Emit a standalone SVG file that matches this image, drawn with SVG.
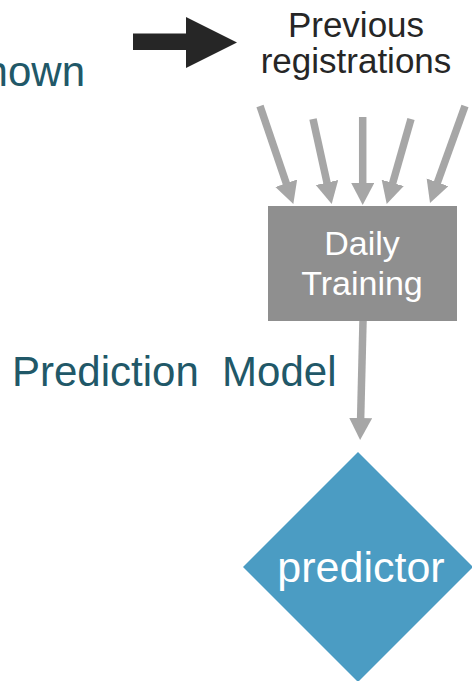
<svg xmlns="http://www.w3.org/2000/svg" width="472" height="681" viewBox="0 0 472 681">
  <style>
    text { font-family: "Liberation Sans", Arial, sans-serif; }
    .label { fill: #215868; font-size: 42px; }
    .dark { fill: #262626; font-size: 35px; }
    .white { fill: #ffffff; }
    .feed { stroke: #a6a6a6; stroke-width: 7.5; fill: none; marker-end: url(#grayHead); }
  </style>
  <defs>
    <marker id="grayHead" markerUnits="userSpaceOnUse" markerWidth="24" markerHeight="24" refX="2" refY="11.5" orient="auto">
      <path d="M0,0 L22,11.5 L0,23 z" fill="#a6a6a6"/>
    </marker>
  </defs>

  <!-- side labels -->
  <g id="label-known">
    <text class="label" x="85" y="86" text-anchor="end">nown</text>
  </g>
  <g id="label-model">
    <text class="label" x="12" y="386" xml:space="preserve">Prediction  Model</text>
  </g>

  <!-- data source -->
  <g id="previous-registrations">
    <text class="dark" x="356" y="37" text-anchor="middle">Previous</text>
    <text class="dark" x="356" y="73" text-anchor="middle">registrations</text>
  </g>

  <!-- training step -->
  <g id="daily-training">
    <rect x="268" y="206" width="189" height="115" fill="#8f8f8f"/>
    <text class="white" x="362" y="255" text-anchor="middle" font-size="34">Daily</text>
    <text class="white" x="362" y="295" text-anchor="middle" font-size="34">Training</text>
  </g>

  <!-- model output -->
  <g id="predictor">
    <polygon points="358,452 473,567 358,682 243,567" fill="#4b9cc3"/>
    <text class="white" x="361" y="582" text-anchor="middle" font-size="43">predictor</text>
  </g>

  <g id="connectors">
    <polygon points="133,33.5 186,33.5 186,17 237,42.5 186,68 186,50 133,50" fill="#262626"/>
    <line class="feed" x1="260" y1="106" x2="286.9" y2="185.1"/>
    <line class="feed" x1="313" y1="119" x2="327.4" y2="184.5"/>
    <line class="feed" x1="362.7" y1="117" x2="362.7" y2="185"/>
    <line class="feed" x1="411" y1="119" x2="392.2" y2="184.8"/>
    <line class="feed" x1="465" y1="106" x2="436.8" y2="184.2"/>
    <line class="feed" x1="363" y1="321" x2="360.6" y2="420"/>
  </g>
</svg>
